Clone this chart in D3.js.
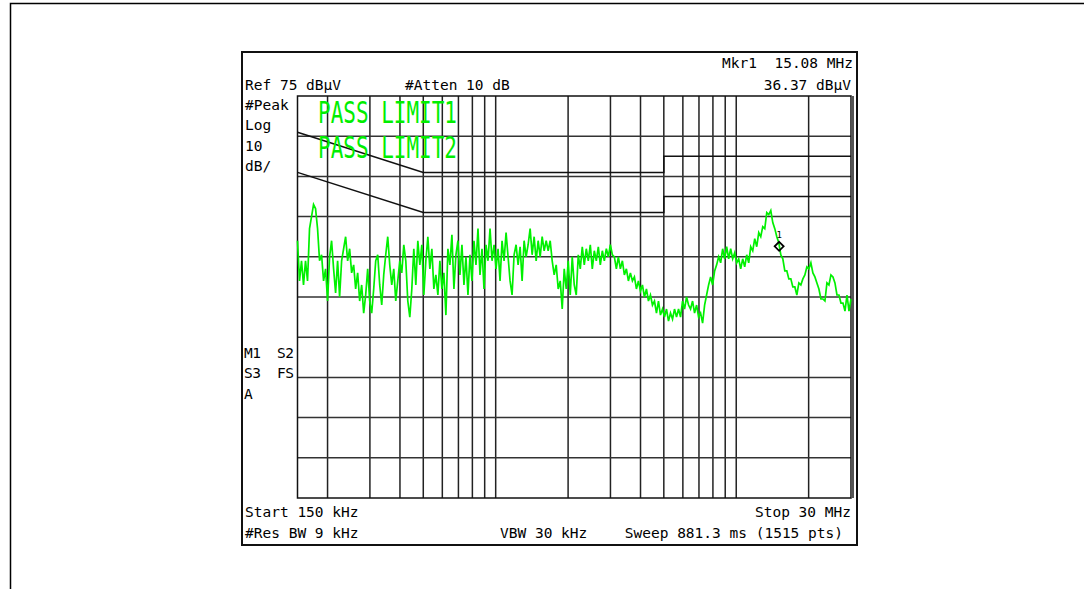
<!DOCTYPE html>
<html>
<head>
<meta charset="utf-8">
<script src="https://cdn.jsdelivr.net/npm/d3@7"></script>
<style>
body { margin: 0; background: #fff; }
text { font-family: "DejaVu Sans Mono", monospace; font-size: 14.5px; fill: #000; white-space: pre; }
</style>
</head>
<body>
<div id="chart"></div>
<script>
// sweep settings
const fStartMHz = 0.15, fStopMHz = 30;
const refLevel = 75, dbPerDiv = 10, nDiv = 10;

// vertical graticule (log frequency), MHz
const gridFreqsMHz = [0.2, 0.3, 0.4, 0.5, 0.6, 0.7, 0.8, 0.9, 1, 2, 3, 4, 5, 6, 7, 8, 9, 10, 20];

// limit lines (EN55022 class B style)
const limitFreqMHz = [0.15, 0.5, 5, 5, 30];
const limit1Db = [66, 56, 56, 60, 60];
const limit2Db = [56, 46, 46, 50, 50];

// trace, dBuV, evenly spaced sweep points from start to stop
const traceDb = [
  39, 29, 34, 28, 34, 29, 42, 45, 48, 47,
  42, 34, 35.5, 29, 32, 24, 35, 39, 32, 26,
  34, 25, 34, 37, 40, 34, 37, 31, 33, 27,
  31, 24, 28, 21, 25.5, 32, 24, 21, 27, 34,
  35.5, 28, 23, 30.5, 35.5, 40, 33, 28, 32, 24,
  29, 34, 31, 38, 34, 24, 20, 27, 37, 28,
  39, 33, 38, 25.5, 34, 40, 32, 37, 27, 30.5,
  25.5, 34, 27, 31, 20.5, 37, 33, 40.5, 27, 35.5,
  39, 30.5, 38, 28, 35, 25.5, 35.5, 29, 39, 33,
  42, 30.5, 37, 27, 38, 34, 42, 34, 38, 32,
  37, 29, 39, 34, 41, 35, 29, 25.5, 35.5, 38,
  33, 37.5, 29, 39, 35, 38, 42, 35.5, 40, 34,
  39, 35, 40, 36.5, 39, 36.5, 39, 34, 30.5, 33,
  27, 29, 22, 32, 27, 34, 25.5, 35, 28, 25.5,
  35.5, 32, 37.5, 33, 37, 34, 38, 32, 36.5, 34,
  37.5, 33, 36.5, 34, 37, 35, 38, 35.5, 35, 32,
  35, 32, 34, 30.5, 32, 29, 31, 29, 30, 27,
  29, 26.5, 28, 25, 27, 24, 25.5, 23, 24, 21,
  24, 20.5, 22, 20, 22, 19, 21, 19.5, 22, 20,
  22, 20, 24, 22, 25, 23, 22, 24, 21, 23,
  20, 21, 18.5, 23, 25.5, 28, 30, 28, 31.5, 33,
  35, 33.5, 37, 34.5, 37.5, 34.5, 37, 34.5, 36, 33.5,
  34.5, 32, 34.5, 32.5, 35.5, 33.5, 37.5, 36.5, 39.5, 37.5,
  41, 40, 42.5, 42, 46, 45.5, 46.5, 43.5, 42, 40,
  38.5, 35.5, 34.5, 31.5, 31.5, 29.5, 29.5, 27.5, 27.5, 25.5,
  28.5, 28, 29.5, 30.5, 32.5, 32, 33.5, 31, 30, 28.5,
  27, 24.5, 24.5, 24, 28.5, 28, 30.5, 30, 28.5, 25.5,
  25.5, 23.5, 23.5, 21.5, 25.5, 21.5, 24.5
];

const markerFreqMHz = 15.08, markerDb = 36.37;

// annotation text
const passTexts = ["PASS LIMIT1", "PASS LIMIT2"];
const sideTextsTop = ["#Peak", "Log", "10", "dB/"];
const sideTextsBottom = ["M1  S2", "S3  FS", "A"];
const mkrText = "Mkr1  15.08 MHz";
const refText = "Ref 75 dB\u03bcV";
const attenText = "#Atten 10 dB";
const mkrLevelText = "36.37 dB\u03bcV";
const startText = "Start 150 kHz", stopText = "Stop 30 MHz";
const rbwText = "#Res BW 9 kHz", vbwText = "VBW 30 kHz", sweepText = "Sweep 881.3 ms (1515 pts)";

var width = 1084, height = 589;
var svg = d3.select('#chart').append('svg')
    .attr('width', width)
    .attr('height', height);

// page frame
svg.append('path')
    .attr('d', 'M10.5,589 V3.5 H1084')
    .attr('fill', 'none')
    .attr('stroke', '#000')
    .attr('stroke-width', 1.5);

// instrument screen box
svg.append('rect')
    .attr('x', 242).attr('y', 52)
    .attr('width', 615).attr('height', 493)
    .attr('fill', '#fff')
    .attr('stroke', '#111')
    .attr('stroke-width', 2);

var plot = {left: 297.5, right: 851, top: 96, bottom: 498};

let scaleX = d3.scaleLog().domain([fStartMHz, fStopMHz]).range([plot.left, plot.right]);
let scaleY = d3.scaleLinear().domain([refLevel - dbPerDiv * nDiv, refLevel]).range([plot.bottom, plot.top]);

var g = svg.append('g');

// graticule
g.selectAll('.vgrid').data(gridFreqsMHz).enter()
    .append('line')
    .attr('class', 'vgrid')
    .attr('x1', d => scaleX(d)).attr('x2', d => scaleX(d))
    .attr('y1', plot.top).attr('y2', plot.bottom)
    .attr('stroke', '#222').attr('stroke-width', 1.5);

g.selectAll('.hgrid').data(d3.range(1, nDiv).map(i => refLevel - i * dbPerDiv)).enter()
    .append('line')
    .attr('class', 'hgrid')
    .attr('x1', plot.left).attr('x2', plot.right)
    .attr('y1', d => scaleY(d)).attr('y2', d => scaleY(d))
    .attr('stroke', '#333').attr('stroke-width', 1.5);

g.append('rect')
    .attr('x', plot.left).attr('y', plot.top)
    .attr('width', plot.right - plot.left).attr('height', plot.bottom - plot.top)
    .attr('fill', 'none').attr('stroke', '#111').attr('stroke-width', 1.5);

g.append('line')
    .attr('x1', plot.right + 1.5).attr('x2', plot.right + 1.5)
    .attr('y1', plot.top).attr('y2', plot.bottom)
    .attr('stroke', '#555').attr('stroke-width', 3);

// limit lines
let limitLine = d3.line()
    .x(d => scaleX(d.f))
    .y(d => scaleY(d.v));

[limit1Db, limit2Db].forEach(lim => {
    g.append('path')
        .datum(lim.map((v, i) => ({f: limitFreqMHz[i], v: v})))
        .attr('d', limitLine)
        .attr('fill', 'none')
        .attr('stroke', '#111')
        .attr('stroke-width', 1.5);
});

// trace
let n = traceDb.length;
let trace = traceDb.map((v, i) => ({f: fStartMHz * Math.pow(fStopMHz / fStartMHz, i / (n - 1)), v: v}));
g.append('path')
    .datum(trace)
    .attr('d', limitLine)
    .attr('fill', 'none')
    .attr('stroke', '#00f000')
    .attr('stroke-width', 1.7)
    .attr('stroke-linejoin', 'miter');

// PASS LIMIT texts
passTexts.forEach((t, i) => {
    g.append('text')
        .attr('transform', 'translate(318,' + (123 + i * 35) + ') scale(1,1.4)')
        .style('font-size', '21px')
        .style('fill', '#00ee00')
        .text(t);
});

// marker
let mx = scaleX(markerFreqMHz), my = scaleY(markerDb) - 5;
g.append('path')
    .attr('d', 'M' + mx + ',' + (my - 4.5) + 'l4.5,4.5l-4.5,4.5l-4.5,-4.5z')
    .attr('fill', 'none').attr('stroke', '#000').attr('stroke-width', 1.8);
g.append('text')
    .attr('x', mx).attr('y', my - 8)
    .attr('text-anchor', 'middle')
    .style('font-size', '9px')
    .text('1');

// screen annotations
svg.append('text').attr('x', 853).attr('y', 68).attr('text-anchor', 'end').text(mkrText);
svg.append('text').attr('x', 245).attr('y', 90).text(refText);
svg.append('text').attr('x', 405).attr('y', 90).text(attenText);
svg.append('text').attr('x', 851).attr('y', 90).attr('text-anchor', 'end').text(mkrLevelText);

sideTextsTop.forEach((t, i) => {
    svg.append('text').attr('x', 245).attr('y', 110 + i * 20.4).text(t);
});
sideTextsBottom.forEach((t, i) => {
    svg.append('text').attr('x', 244).attr('y', 358 + i * 20.4)
        .style('letter-spacing', '-0.5px').text(t);
});

svg.append('text').attr('x', 245).attr('y', 517).text(startText);
svg.append('text').attr('x', 851).attr('y', 517).attr('text-anchor', 'end').text(stopText);
svg.append('text').attr('x', 245).attr('y', 538).text(rbwText);
svg.append('text').attr('x', 500).attr('y', 538).text(vbwText);
svg.append('text').attr('x', 843).attr('y', 538).attr('text-anchor', 'end').text(sweepText);
</script>
</body>
</html>
